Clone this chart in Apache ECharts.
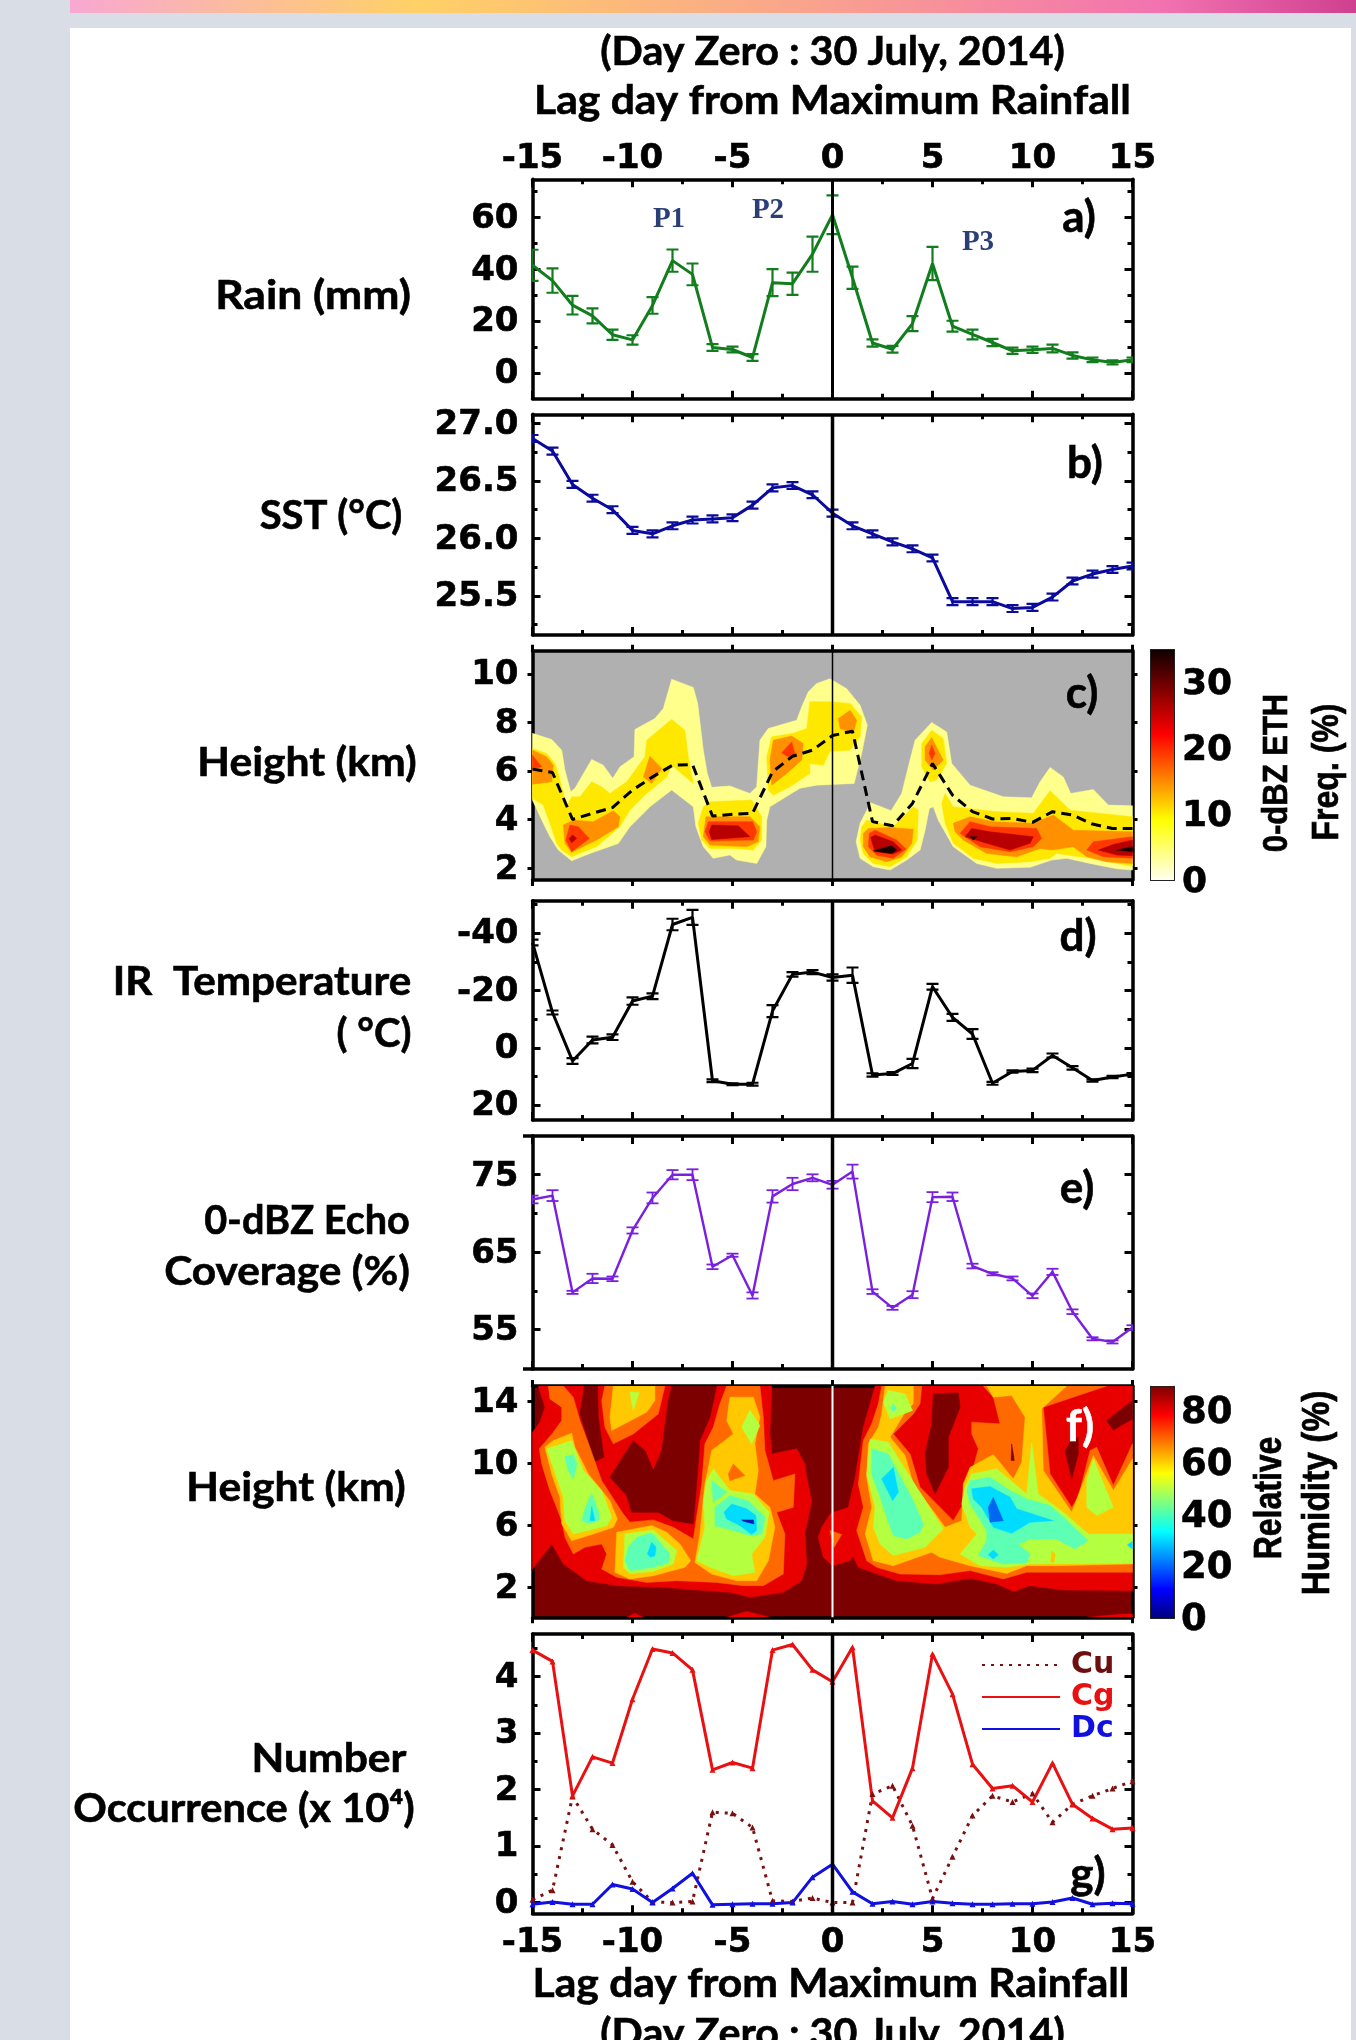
<!DOCTYPE html>
<html><head><meta charset="utf-8">
<script src="https://cdn.jsdelivr.net/npm/echarts@6/dist/echarts.min.js"></script>
<style>
html,body{margin:0;padding:0;background:#d9dee6;width:1356px;height:2040px;overflow:hidden}
#bar{position:absolute;left:70px;top:0;width:1286px;height:13px;background:linear-gradient(90deg,#f8a8d2 0%,#ffd166 27%,#f9a28e 58%,#f272b0 85%,#cf4090 100%)}
#card{position:absolute;left:70px;top:28px;width:1281px;height:2012px;background:#fff}
#c{position:absolute;left:0;top:0;width:1356px;height:2040px}
</style></head><body>
<div id="bar"></div><div id="card"></div><div id="c"></div>
<script>
// ---------- tick values and labels ----------
const days = [-15,-14,-13,-12,-11,-10,-9,-8,-7,-6,-5,-4,-3,-2,-1,0,1,2,3,4,5,6,7,8,9,10,11,12,13,14,15];
const dayTicks = [-15,-10,-5,0,5,10,15];
const dayMinorTicks = [-12.5,-7.5,-2.5,2.5,7.5,12.5];

// ---------- panel a: rain ----------
const rain = [41.5,35.6,26.1,22,14.7,12.7,26,43.3,38,9.8,9,5.9,34.8,34.4,45.8,61,36.7,11.5,9.1,19,42.2,18,14.8,11.7,8.5,8.9,9.4,6.7,5,4,5];
const rainErr = [6,4.7,3.6,2.9,2,1.8,3.2,4.3,4.2,1.3,1.1,1.3,5.2,4.3,6.8,7.5,4.3,1.4,1.3,2.9,6.4,2.1,1.9,1.4,1.2,1.2,1.5,1.2,.9,.8,.9];
// ---------- panel b: SST ----------
const sst = [26.87,26.76,26.47,26.35,26.25,26.07,26.04,26.11,26.16,26.17,26.18,26.29,26.44,26.46,26.38,26.22,26.11,26.04,25.97,25.91,25.83,25.45,25.45,25.45,25.39,25.40,25.49,25.63,25.69,25.73,25.76];
const sstErr = [.03,.03,.03,.03,.03,.03,.03,.03,.03,.03,.03,.03,.03,.03,.03,.03,.03,.03,.03,.03,.03,.03,.03,.03,.03,.03,.03,.03,.03,.03,.03];
// ---------- panel c: echo-top height line and contour outlines [day, km] ----------
const ethMean = [6.08,5.94,4.01,4.26,4.5,5.22,5.76,6.24,6.27,4.15,4.22,4.26,5.97,6.61,6.86,7.46,7.64,3.92,3.75,4.67,6.31,5.01,4.33,4.03,4.05,3.89,4.33,4.19,3.82,3.64,3.64];
const eth1a = [[-15,7.55],[-14.04,7.3],[-13.54,6.86],[-13.38,6.04],[-13.09,5.15],[-12.88,5.29],[-12.04,6.48],[-11.46,6.24],[-10.99,5.7],[-10.62,6.18],[-9.92,6.59],[-9.88,7.71],[-8.88,8.16],[-8.46,8.57],[-8.04,9.78],[-6.96,9.44],[-6.74,8.78],[-6.46,6.86],[-6.26,5.9],[-6.04,5.33],[-5.13,5.39],[-4.13,5.08],[-3.79,5.35],[-3.63,7.27],[-3.21,7.75],[-1.79,8.09],[-1.54,8.64],[-1.21,9.26],[-.79,9.6],[-.13,9.8],[.71,9.39],[1.38,8.71],[1.74,7.89],[1.46,6.72],[1.08,5.49],[-.79,5.42],[-1.63,5.29],[-3.13,4.53],[-3.29,3.98],[-3.33,2.89],[-3.79,2.2],[-4.79,2.34],[-5.13,2.55],[-5.96,2.41],[-6.46,2.89],[-6.83,3.71],[-6.96,4.53],[-8.04,5.22],[-9.13,4.53],[-10.13,3.71],[-10.71,3.02],[-12.13,2.61],[-13.04,2.31],[-13.71,2.75],[-14.13,3.3],[-14.46,3.85],[-15,4.8]];
const eth1b = [[1.91,4.7],[2.93,4.37],[3.46,5.08],[3.79,6.18],[4.13,7.27],[4.96,8],[5.71,7.61],[5.96,6.31],[6.88,5.42],[8.54,4.94],[9.96,4.9],[10.38,5.56],[10.88,6.15],[11.54,5.76],[11.91,5.08],[13.04,5.24],[13.79,4.6],[15,4.57],[15,1.93],[14.21,1.98],[12.88,2.2],[11.71,2.41],[10.96,2.34],[9.88,2.04],[8.21,2],[7.21,2.2],[6.04,2.89],[5.29,3.98],[5.04,4.53],[4.84,4.46],[4.63,3.57],[4.38,2.75],[3.71,2.34],[2.88,1.93],[2.04,2.07],[1.38,2.41],[1.18,3.09],[1.38,3.85]];
const eth2a = [[-15,6.93],[-14.29,6.72],[-13.88,6.31],[-13.71,5.9],[-13.29,4.53],[-13.04,4.94],[-12.63,4.94],[-12.04,5.56],[-11.54,5.35],[-11.13,5.08],[-10.29,5.56],[-9.38,6.59],[-9.29,7.27],[-8.04,8.13],[-7.38,7.68],[-7.21,6.59],[-6.96,5.49],[-8.04,6.24],[-8.29,5.76],[-9.29,5.08],[-10.13,4.39],[-10.63,3.71],[-11.79,2.9],[-13.04,2.48],[-13.54,2.75],[-13.79,3.02],[-14.13,3.85],[-14.46,4.6],[-15,4.87]];
const eth2b = [[-6.13,4.74],[-4.04,4.81],[-3.54,4.12],[-3.54,3.16],[-3.96,2.75],[-4.96,2.82],[-6.13,2.82],[-6.54,3.16],[-6.71,3.85],[-6.46,4.53]];
const eth2c = [[-3.29,6.59],[-3.04,7.41],[-1.96,7.55],[-1.29,7.75],[-1.13,8.85],[-.13,8.85],[.88,8.78],[1.46,8.23],[1.38,7.41],[.88,6.86],[-.13,6.81],[-.46,6.24],[-1.13,6.31],[-1.13,5.9],[-2.13,5.35],[-2.96,5.01],[-3.21,5.22]];
const eth2d = [[5.63,5.08],[6.04,4.53],[8.21,4.33],[10.04,4.26],[10.88,5.19],[11.88,4.39],[15,4.12],[15,2.09],[14.21,2.2],[12.88,2.41],[11.21,2.61],[10.88,2.41],[9.88,2.27],[8.21,2.2],[7.04,2.41],[6.04,3.03],[5.63,3.85],[5.46,4.67]];
const eth2e = [[4.96,7.68],[5.54,7.34],[5.71,6.31],[5.21,5.63],[4.88,5.56],[4.46,6.18],[4.46,7.13]];
const eth2f = [[1.71,3.98],[2.04,3.92],[3.04,3.71],[4.04,4.53],[4.29,4.4],[4.24,3.16],[3.71,2.47],[2.88,2.07],[2.04,2.2],[1.54,2.61],[1.38,3.16],[1.46,3.71]];
const eth3a = [[-15,6.86],[-14.29,6.59],[-13.96,6.24],[-14.04,5.56],[-15,5.46]];
const eth3b = [[-9.13,6.61],[-8.54,6.11],[-9.04,5.49],[-9.46,5.76]];
const eth3c = [[-13.46,3.78],[-12.96,3.98],[-11.96,3.92],[-10.96,4.37],[-10.63,4.12],[-10.71,3.71],[-11.79,3.16],[-13.04,2.66],[-13.38,3.02]];
const eth3d = [[-6.33,4.12],[-4.13,4.12],[-3.63,3.71],[-3.71,3.09],[-4.29,2.89],[-6.13,2.96],[-6.46,3.3]];
const eth3e = [[-2.96,7.27],[-2.04,7.44],[-1.46,7.13],[-1.54,6.45],[-2.29,5.9],[-3.04,5.42],[-3.13,6.45]];
const eth3f = [[.29,8.16],[.88,8.5],[1.21,8.09],[1.04,7.55],[.38,7.75]];
const eth3g = [[1.79,3.64],[2.88,3.68],[4.04,3.61],[3.96,3.02],[3.46,2.47],[2.71,2.27],[1.88,2.47],[1.54,2.89],[1.54,3.44]];
const eth3h = [[4.96,7.38],[5.38,6.7],[5.54,6.45],[5.04,6.04],[4.63,6.45],[4.63,7]];
const eth3i = [[6.04,3.85],[6.88,4.12],[8.04,3.92],[10.04,3.85],[11.04,4.19],[12.04,3.57],[15,3.5],[15,2.2],[13.71,2.27],[12.71,2.48],[12.04,2.89],[10.96,2.75],[10.38,2.82],[9.21,2.48],[7.71,2.61],[6.54,3.16],[6.13,3.5]];
const eth4a = [[-15,6.65],[-14.54,6.18],[-15,6.1]];
const eth4b = [[-13.13,3.78],[-12.71,3.71],[-12.16,3.23],[-13.04,2.68],[-13.33,3.16]];
const eth4c = [[-6.21,3.92],[-3.99,3.92],[-3.79,3.5],[-3.96,3.16],[-6.13,3.13],[-6.38,3.5]];
const eth4d = [[-2.04,7.2],[-1.83,6.59],[-2.29,6.61],[-2.54,6.75]];
const eth4e = [[4.96,7.07],[5.13,6.72],[4.96,6.45],[4.83,6.72]];
const eth4f = [[1.84,3.44],[2.13,3.57],[3.21,3.16],[3.68,2.79],[3.04,2.41],[2.21,2.54],[1.79,2.89]];
const eth4g = [[6.38,3.44],[6.88,3.92],[7.88,3.71],[10.21,3.64],[10.46,3.23],[10.04,2.89],[8.88,2.68],[7.38,2.89]];
const eth4h = [[12.71,2.75],[13.04,3.09],[15,3.3],[15,2.41],[13.54,2.48]];
const eth5a = [[-12.99,3.37],[-12.79,3.23],[-13.04,3.05],[-13.16,3.23]];
const eth5b = [[-6.04,3.78],[-4.71,3.75],[-4.13,3.3],[-6.04,3.19],[-6.16,3.5]];
const eth5c = [[1.91,3.27],[2.13,3.37],[3.04,3.09],[3.46,2.75],[3.04,2.59],[2.13,2.68]];
const eth5d = [[6.63,3.3],[6.96,3.64],[7.88,3.5],[10.04,3.3],[9.88,3.03],[8.88,2.75],[7.71,3.03]];
const eth5e = [[13.29,2.75],[14.04,2.98],[15,3.16],[15,2.52],[14.21,2.55]];
const eth6a = [[2.04,2.72],[2.96,2.93],[3.21,2.75],[2.96,2.61]];
const eth6b = [[14.21,2.75],[15,2.89],[15,2.68]];
const eth6c = [[6.88,3.3],[7.21,3.3],[7.04,3.16]];
// ---------- panel d: IR temperature ----------
const irTemp = [-36.7,-12.3,4.6,-2.7,-3.7,-16.3,-18,-43,-45.5,11.5,12.7,12.7,-12.8,-25.6,-26.4,-24.5,-25.3,9.5,9,5.5,-21.3,-10.6,-4.8,12.4,8.3,7.9,2.7,7,11.4,10.2,9.2];
const irErr = [1,.7,1,1.2,1,1.3,1,2,2.6,.5,.3,.5,2.1,.8,.7,1.1,2.7,.6,.5,1.6,1,1.2,1.7,.5,.4,.6,.7,.6,.4,.4,.4];
// ---------- panel e: echo coverage ----------
const cover = [71.8,72.3,59.8,61.6,61.55,67.8,72,75,75,63.1,64.6,59.4,72.2,73.8,74.6,73.7,75.4,59.9,57.8,59.5,72.1,72.15,63.2,62.2,61.6,59.35,62.45,57.3,53.8,53.4,55.25];
const coverErr = [.5,.7,.2,.6,.3,.4,.7,.6,.7,.3,.2,.4,.8,.8,.45,.5,.9,.3,.25,.45,.65,.55,.3,.2,.25,.3,.4,.3,.2,.2,.3];
// ---------- panel f: humidity contour outlines [day, km] ----------
const rhRedA = [[-15,3.2],[-14.04,4.82],[-13.46,3.53],[-12.29,2.45],[-10.79,2.13],[-8.46,2.02],[-6.79,1.85],[-5.13,1.7],[-4.13,1.38],[-2.46,1.7],[-1.54,2.45],[-1.29,3.53],[-1.38,5.46],[-1.04,7.61],[-1.29,9.12],[-1.38,9.98],[-1.79,10.95],[-3.04,10.62],[-3.13,11.91],[-3.04,15],[-14.71,15],[-14.38,13.63],[-14.63,12.67],[-15,12.02]];
const rhRedB = [[-.13,6.71],[-.54,5.89],[-.71,5.25],[-.46,3.96],[0,3.42],[.88,3.74],[1.04,4],[1.29,3.31],[3.21,2.45],[5.21,2.24],[6.88,2.6],[8.21,2.24],[9.04,1.76],[9.88,2.13],[11.54,1.85],[15,1.81],[15,15],[2.13,15],[1.54,12.34],[1.13,9.12],[.79,7.18],[.08,6.86]];
const rhRedC = [[-10.29,.1],[-9.88,.34],[-9.46,.1]];
const rhRedD = [[-5.29,.1],[-4.29,.47],[-3.13,.1]];
const rhRedE = [[12.71,.1],[14.54,.3],[15,.3],[15,.1]];
const rhDarkA = [[-8.04,15],[-5.79,15],[-6.13,12.99],[-6.63,11.48],[-6.79,8.69],[-6.96,6.11],[-7.96,6.32],[-8.71,6.86],[-10.04,6.86],[-10.29,7.94],[-11.13,9.12],[-9.96,11.48],[-9.38,10.84],[-8.96,9.55],[-8.54,10.84],[-8.21,14.07]];
const rhDarkB = [[-12.41,15],[-11.74,15],[-11.71,12.99],[-11.43,10.41],[-11.96,10.09],[-12.21,11.48],[-12.63,13.2]];
const rhDarkC = [[5.04,14.49],[6.29,14.56],[6.38,13.63],[5.79,11.7],[5.79,9.76],[5.13,8.04],[4.71,9.33],[4.63,10.62],[4.96,12.56]];
const rhDarkD = [[12.29,11.7],[11.88,11.38],[11.63,10.84],[11.96,9.01],[12.29,10.62]];
const rhDarkE = [[15,14.07],[13.71,12.77],[14.04,12.17],[15,12.88]];
const rhDarkF = [[8.96,11.27],[9.09,10.19],[8.93,10.19]];
const rhOrangeA = [[-14.21,15],[-14.13,14.17],[-13.54,13.63],[-13.54,12.77],[-13.96,12.02],[-14.38,11.38],[-14.66,10.95],[-14.54,9.98],[-14.13,8.26],[-13.54,6.32],[-13.38,5.25],[-12.96,4.17],[-12.38,4.6],[-11.54,4.82],[-11.29,4.17],[-11.54,3.2],[-10.79,2.67],[-9.29,2.34],[-7.79,2.45],[-5.79,2.34],[-4.46,2.13],[-3.46,2.13],[-2.46,2.88],[-2.38,5.46],[-2.79,6.86],[-1.96,7.18],[-1.88,9.33],[-2.96,8.9],[-3.38,10.84],[-3.46,12.99],[-3.63,15],[-5.29,15],[-5.63,13.85],[-5.96,12.34],[-6.38,11.27],[-6.54,8.69],[-6.96,5.14],[-7.96,5.89],[-8.96,6.37],[-10.13,6.22],[-10.46,6.75],[-11.54,8.9],[-12.13,11.05],[-12.63,12.77],[-12.96,14.28],[-13.46,15]];
const rhOrangeB = [[-11.38,15],[-8.38,15],[-8.71,13.2],[-9.96,11.91],[-10.96,11.27],[-11.38,12.34],[-11.54,14.06]];
const rhOrangeC = [[2.46,15],[4.46,15],[4.38,13.85],[4.04,13.2],[3.04,11.91],[3.88,10.62],[4.38,8.47],[6.04,6.32],[6.54,7.4],[7.29,10.95],[6.96,11.91],[6.96,12.67],[8.38,12.56],[8.04,14.28],[7.54,15],[13.71,15],[10.54,13.63],[10.88,9.33],[11.96,7.18],[12.29,7.83],[12.88,10.84],[13.21,11.05],[14.04,8.58],[15,11.27],[15,2.99],[11.21,2.99],[9.71,2.99],[8.54,2.56],[6.88,3.1],[5.38,2.84],[3.38,2.88],[2.21,3.31],[1.71,3.74],[1.21,5.68],[1.54,7.18],[1.29,8.69],[1.54,11.48],[1.96,12.56],[2.29,13.85]];
const rhOrangeD = [[-.13,5.68],[.46,5.42],[.08,4.6]];
const rhOrangeE = [[-4.96,9.98],[-4.38,9.23],[-5.13,8.9],[-5.21,9.33]];
const rhGoldA = [[-13.04,11.96],[-12.88,11.05],[-12.21,9.33],[-11.13,7.61],[-10.76,6.43],[-10.96,5.89],[-11.96,5.46],[-13.04,5.03],[-13.54,6.11],[-13.63,7.83],[-14.04,9.33],[-14.38,11.05],[-13.96,11.48]];
const rhGoldB = [[-10.79,5.57],[-9.04,6],[-8.29,5.57],[-7.63,4.82],[-7.09,3.74],[-7.38,3.31],[-8.96,2.77],[-10.13,2.56],[-10.88,2.99]];
const rhGoldC = [[-10.96,15],[-8.88,15],[-8.88,14.06],[-9.29,13.31],[-11.04,12.13],[-11.13,12.99]];
const rhGoldD = [[-5.13,14.28],[-3.96,14.28],[-3.63,12.99],[-3.88,11.27],[-3.71,9.55],[-3.88,8.04],[-3.13,7.18],[-2.88,5.89],[-3.21,3.74],[-3.79,2.45],[-4.79,2.45],[-6.04,2.88],[-6.88,3.63],[-6.63,5.46],[-6.38,8.69],[-6.04,10.84],[-4.96,11.91],[-5.29,12.77]];
const rhGoldE = [[2.63,15],[4.04,15],[4.04,13.85],[3.63,13.31],[2.88,11.7],[3.63,10.52],[4.04,8.69],[5.63,5.89],[6.46,6.32],[6.54,8.69],[6.88,9.76],[8.04,10.58],[9.04,9.01],[9.46,10.09],[9.63,12.99],[8.96,14.39],[8.04,14.28],[7.71,15],[11.71,15],[10.46,13.53],[10.54,9.55],[11.96,6.86],[13.04,10.52],[14.04,8.26],[15,10.3],[15,3.53],[11.21,3.42],[9.71,3.42],[8.71,2.92],[6.88,3.42],[5.38,3.96],[4.96,4.28],[3.04,3.42],[2.04,3.74],[1.63,5.46],[1.96,7.18],[1.71,9.12],[1.79,11.27],[2.29,12.34],[2.46,13.2]];
const rhLimeA = [[-14.29,10.95],[-13.04,11.48],[-12.46,9.55],[-11.54,8.26],[-11.04,6.54],[-11.29,6],[-12.21,5.68],[-12.96,5.46],[-13.38,6.32],[-13.46,7.83],[-13.88,9.44]];
const rhLimeB = [[-10.38,5.46],[-8.96,5.72],[-7.79,4.39],[-7.96,3.53],[-8.96,3.05],[-10.13,2.92],[-10.46,3.31]];
const rhLimeC = [[-10.13,14.6],[-9.66,14.6],[-9.96,13.42]];
const rhLimeD = [[-4.13,13.46],[-3.63,12.45],[-4.04,11.27],[-4.54,12.34]];
const rhLimeE = [[-5.96,9.66],[-5.13,8.26],[-3.96,8.04],[-3.16,6.86],[-3.38,5.25],[-4.04,4.17],[-3.88,2.99],[-4.96,2.77],[-6.13,3.31],[-6.79,3.74],[-6.38,5.89],[-6.46,7.61],[-6.29,8.9]];
const rhLimeF = [[2.79,14.71],[3.63,14.49],[4,13.42],[2.88,12.88],[2.54,13.96]];
const rhLimeG = [[1.88,11.59],[2.79,11.38],[3.79,9.33],[5.54,5.78],[4.63,4.6],[3.04,4.07],[2.38,4.82],[2.04,5.89],[2.13,7.18],[1.71,9.33]];
const rhLimeH = [[6.63,8.47],[6.96,9.33],[8.21,9.66],[9.71,8.04],[9.96,11.38],[10.29,8.04],[11.54,6.86],[12.79,5.46],[15,5.46],[15,3.57],[9.88,3.53],[8.71,3.31],[7.38,3.42],[6.38,4.17],[7.21,5.46],[6.88,5.89],[6.46,7.4]];
const rhLimeI = [[13.04,10.3],[14.04,7.18],[13.21,6.65],[12.71,7.18],[12.71,8.9]];
const rhGoldF = [[10.96,4.39],[11.13,4.17],[11.08,3.64],[10.91,3.64]];
const rhAquaA = [[-13.38,10.45],[-12.96,10.58],[-12.79,9.98],[-12.96,9.01],[-13.21,9.55]];
const rhAquaB = [[-12.04,8.09],[-11.66,6.75],[-11.71,6.32],[-12.21,6.15],[-12.54,6.32],[-12.38,7.08]];
const rhAquaC = [[-9.79,5.25],[-9.04,5.53],[-8.13,4.17],[-8.21,3.63],[-8.96,3.31],[-10.13,3.1],[-10.38,3.74],[-10.21,4.6]];
const rhAquaD = [[-6.04,8.9],[-5.29,8.15],[-5.96,7.5]];
const rhAquaE = [[-5.13,7.94],[-4.21,7.61],[-3.38,6.54],[-3.54,5.46],[-4.13,5.36],[-4.96,5.68],[-5.88,6],[-5.88,7.18]];
const rhAquaF = [[1.96,10.95],[2.79,10.62],[4.04,7.61],[4.54,6.11],[4.38,5.57],[3.71,5.14],[3.04,5.36],[2.71,6.54],[2.38,7.83],[1.96,9.33]];
const rhAquaG = [[3.04,13.85],[3.21,13.59],[3.04,13.31],[2.91,13.59]];
const rhAquaH = [[6.88,8.9],[7.88,9.12],[8.88,8.26],[9.71,7.72],[10.88,7.29],[11.54,6.54],[12.79,5.03],[12.13,4.5],[11.21,5.14],[9.88,5.14],[9.29,4.82],[9.88,4.17],[9.71,3.63],[8.54,3.53],[7.29,4.07],[7.71,5.03],[7.71,5.68],[6.88,7.4],[6.71,8.26]];
const rhCyanA = [[-12.04,7.23],[-11.88,6.32],[-12.13,6.32]];
const rhCyanB = [[-9.04,4.93],[-8.82,4.6],[-8.88,4.06],[-9.09,3.96],[-9.26,4.17]];
const rhCyanC = [[-5.04,7.4],[-4.29,7.08],[-3.83,6.65],[-3.79,5.68],[-4.04,5.42],[-4.63,6],[-5.29,6.43],[-5.43,6.86]];
const rhCyanD = [[3.04,9.76],[3.29,8.15],[3.01,7.61],[2.46,9.01]];
const rhCyanE = [[6.96,8.37],[7.88,8.52],[8.88,7.83],[9.21,7.08],[11.04,6.32],[9.88,6.21],[8.96,5.5],[8.04,5.89],[7.46,7.18],[7.04,7.72]];
const rhCyanF = [[8.04,4.43],[8.29,4.13],[8.04,3.85],[7.79,4.13]];
const rhCyanG = [[15,4.99],[14.74,4.75],[15,4.49]];
const rhBlueA = [[8.04,7.83],[8.54,6.32],[7.88,6.22],[7.79,7.18]];
const rhNavyA = [[-4.54,6.37],[-3.96,6.37],[-3.92,6.11],[-4.46,6.28]];
// ---------- panel g: number occurrence ----------
const cuCount = [.05,.22,1.88,1.3,1.02,.37,.01,0,.02,1.6,1.58,1.33,.03,.02,.08,0,0,1.92,2.07,1.36,.07,.81,1.54,1.89,1.78,1.93,1.42,1.74,1.89,2.02,2.15];
const cgCount = [4.47,4.27,1.89,2.58,2.47,3.6,4.49,4.42,4.12,2.35,2.48,2.38,4.47,4.57,4.12,3.91,4.52,1.8,1.5,2.38,4.4,3.69,2.45,2.02,2.07,1.78,2.47,1.74,1.49,1.3,1.32];
const dcCount = [-.03,.01,-.03,-.03,.32,.24,0,.25,.52,-.04,-.03,-.02,-.02,0,.45,.68,.19,-.02,.02,-.03,.02,-.01,-.03,-.03,-.02,-.02,.01,.08,-.03,-.01,-.02];

// ---------- assembling ----------
const TICK_FONT = '"DejaVu Sans"', TEXT_FONT = 'Lato', LEFT = 532.5, WIDTH = 600;
const grids = [], xAxes = [], yAxes = [], series = [], gfx = [];
const axisFmt = v => String(v);
const tickRich = (size, padTop) => ({t:{fontFamily:TICK_FONT, fontWeight:'bold', fontSize:size, color:'#000', textBorderColor:'#000', textBorderWidth:.6, padding:[padTop,0,0,0]}});
function oneAxis(list, gi, pos, min, max, ticks, o) {
  const f=o.fmt||axisFmt;
  const lab={show:!!o.labels, customValues:ticks, margin:o.margin||14, hideOverlap:false, showMinLabel:true, showMaxLabel:true,
      color:'#000', fontFamily:TICK_FONT, fontWeight:'bold', fontSize:o.size||34, textBorderColor:'#000', textBorderWidth:.6, formatter:f};
  if(o.pad){ lab.formatter=v=>`{t|${f(v)}}`; lab.rich=tickRich(o.size||34,o.pad); }
  list.push({type:'value', gridIndex:gi, position:pos, min, max, inverse:!!o.inverse, splitLine:{show:false},
    axisLine:{show:!!o.line, onZero:false, lineStyle:{color:'#000', width:3.5}},
    axisTick:{show:true, inside:o.inside!==false, length:o.len, customValues:ticks, lineStyle:{color:'#000', width:o.tw||3}},
    axisLabel:lab});
  return list.length-1;
}
function panel(top, height, yMin, yMax, yMajor, yMinor, o) {
  o = o||{};
  const gi = grids.length;
  grids.push({left:LEFT, top, width:WIDTH, height, containLabel:false, show:!!o.bg, backgroundColor:o.bg||'transparent', borderWidth:0});
  const xin = o.outward ? false : true;
  const xb = oneAxis(xAxes, gi,'bottom',-15,15,dayTicks,{line:true,len:o.outward?6:8,inside:xin,labels:o.bottomLabels,margin:13});
  oneAxis(xAxes, gi,'top',-15,15,dayTicks,{line:true,len:o.outward?6:8,inside:xin,labels:o.topLabels,margin:3});
  if(!o.outward){
    oneAxis(xAxes, gi,'bottom',-15,15,dayMinorTicks,{len:5});
    oneAxis(xAxes, gi,'top',-15,15,dayMinorTicks,{len:5});
  }
  const yl = oneAxis(yAxes, gi,'left',yMin,yMax,yMajor,{line:true,len:o.outward?5:8,inside:!o.outward,labels:true,inverse:o.inverse,fmt:o.fmt,margin:o.margin||14,pad:o.padTop||3});
  oneAxis(yAxes, gi,'right',yMin,yMax,yMajor,{line:true,len:o.outward?5:8,inside:!o.outward,inverse:o.inverse});
  if(yMinor){
    oneAxis(yAxes, gi,'left',yMin,yMax,yMinor,{len:5,inverse:o.inverse});
    oneAxis(yAxes, gi,'right',yMin,yMax,yMinor,{len:5,inverse:o.inverse});
  }
  return {x:xb, y:yl, yMin, yMax};
}
function errSeries(p, vals, errs, color, lw) {
  series.push({type:'custom', coordinateSystem:'cartesian2d', xAxisIndex:p.x, yAxisIndex:p.y, clip:true, silent:true, z:3,
    data:days.map((d,i)=>[d,vals[i],errs[i]]), encode:{x:0,y:1},
    renderItem:(params,api)=>{
      const a=api.coord([api.value(0),api.value(1)-api.value(2)]), b=api.coord([api.value(0),api.value(1)+api.value(2)]);
      const st={stroke:color,lineWidth:lw,fill:null}, cap=6;
      return {type:'group',children:[
        {type:'line',shape:{x1:a[0],y1:a[1],x2:b[0],y2:b[1]},style:st},
        {type:'line',shape:{x1:a[0]-cap,y1:a[1],x2:a[0]+cap,y2:a[1]},style:st},
        {type:'line',shape:{x1:b[0]-cap,y1:b[1],x2:b[0]+cap,y2:b[1]},style:st}]};
    }});
}
function lineSeries(p, vals, color, lw, extra) {
  series.push(Object.assign({type:'line', xAxisIndex:p.x, yAxisIndex:p.y, data:days.map((d,i)=>[d,vals[i]]), showSymbol:false, symbol:'none',
    clip:true, silent:true, z:4, lineStyle:{color, width:lw}, itemStyle:{color}}, extra||{}));
}
function zeroLine(p, color, lw) {
  series.push({type:'line', xAxisIndex:p.x, yAxisIndex:p.y, data:[[0,p.yMin],[0,p.yMax]], symbol:'none', silent:true, z:5, lineStyle:{color,width:lw}});
}
function polygons(p, layers) {
  const flat=[]; layers.forEach(([fill,polys])=>polys.forEach(pts=>flat.push({fill,pts})));
  series.push({type:'custom', coordinateSystem:'cartesian2d', xAxisIndex:p.x, yAxisIndex:p.y, clip:true, silent:true, z:2,
    data:flat.map((f,i)=>[0,0,i]), encode:{x:0,y:1},
    renderItem:(params,api)=>{
      const f=flat[api.value(2)];
      return {type:'polygon',shape:{points:f.pts.map(q=>api.coord(q))},style:{fill:f.fill,stroke:f.fill,lineWidth:.5,lineJoin:'round'}};
    }});
}
function colorbar(top, height, yMax, ticks, stops, size, labelMargin, padTop) {
  const gi = grids.length;
  grids.push({left:1151, top, width:23, height, show:false});
  const mk=(pos,lab)=>({type:'value',gridIndex:gi,position:pos,min:0,max:yMax,splitLine:{show:false},
      axisLine:{show:true,onZero:false,lineStyle:{color:'#222',width:2}},
      axisTick:{show:true,inside:true,length:4,customValues:ticks,lineStyle:{color:'#222',width:2}},
      axisLabel:{show:lab,customValues:ticks,margin:labelMargin,hideOverlap:false,showMinLabel:true,showMaxLabel:true,
        color:'#000',fontFamily:TICK_FONT,fontWeight:'bold',fontSize:size,formatter:v=>`{t|${v}}`,rich:tickRich(size,padTop)}});
  xAxes.push({type:'value',gridIndex:gi,min:0,max:1,show:true,splitLine:{show:false},
      axisLine:{show:true,onZero:false,lineStyle:{color:'#222',width:2}},axisTick:{show:false},axisLabel:{show:false}});
  const xi=xAxes.length-1;
  xAxes.push({type:'value',gridIndex:gi,position:'top',min:0,max:1,splitLine:{show:false},
      axisLine:{show:true,onZero:false,lineStyle:{color:'#222',width:2}},axisTick:{show:false},axisLabel:{show:false}});
  yAxes.push(mk('right',true)); const yi=yAxes.length-1;
  yAxes.push(mk('left',false));
  series.push({type:'custom',coordinateSystem:'cartesian2d',xAxisIndex:xi,yAxisIndex:yi,silent:true,z:1,data:[[0,0]],encode:{x:0,y:1},
    renderItem:(params,api)=>{
      const a=api.coord([0,yMax]), b=api.coord([1,0]);
      return {type:'rect',shape:{x:a[0],y:a[1],width:b[0]-a[0],height:b[1]-a[1]},
        style:{fill:new echarts.graphic.LinearGradient(0,1,0,0,stops.map(([v,c])=>({offset:v/yMax,color:c})))}};
    }});
}
function label(text, x, y, size, o) {
  o=o||{};
  const fill=o.color||'#000';
  gfx.push({type:'text', x, y:y+(o.font?0:1.5), z:50, silent:true, rotation:o.rot||0, scaleX:o.sx||1, scaleY:o.sy||1,
    style:{text, fill, stroke:fill, lineWidth:o.lw===undefined?.6:o.lw, font:`${o.weight||'bold'} ${size}px ${o.font||TEXT_FONT}`, align:o.align||'center', verticalAlign:'middle'}});
}

// a) rain
const pa = panel(179.3, 219.4, -10, 74.7, [0,20,40,60], [10,30,50,70], {topLabels:true});
errSeries(pa, rain, rainErr, '#117d1c', 2.2); lineSeries(pa, rain, '#117d1c', 3); zeroLine(pa,'#000',3);
// b) sst
const pb = panel(414.3, 220.7, 25.16, 27.08, [25.5,26,26.5,27], [25.25,25.75,26.25,26.75], {fmt:v=>v.toFixed(1)});
errSeries(pb, sst, sstErr, '#0a0a9c', 2.2); lineSeries(pb, sst, '#0a0a9c', 3); zeroLine(pb,'#000',3.5);
// c) echo-top contour
const pc = panel(650.7, 229.3, 1.52, 10.95, [2,4,6,8,10], null, {bg:'#b0b0b0', outward:true});
polygons(pc, [
 ['#ffff8c',[eth1a,eth1b]],
 ['#ffe800',[eth2a,eth2b,eth2c,eth2d,eth2e,eth2f]],
 ['#ff9000',[eth3a,eth3b,eth3c,eth3d,eth3e,eth3f,eth3g,eth3h,eth3i]],
 ['#ff3800',[eth4a,eth4b,eth4c,eth4d,eth4e,eth4f,eth4g,eth4h]],
 ['#b80000',[eth5a,eth5b,eth5c,eth5d,eth5e]],
 ['#180000',[eth6a,eth6b,eth6c]]]);
lineSeries(pc, ethMean, '#000', 3, {lineStyle:{color:'#000',width:3,type:[10,6]},z:4});
zeroLine(pc,'#000',1.5);
colorbar(650, 230, 34.8, [0,10,20,30], [[0,'#fffff0'],[9,'#ffff00'],[22,'#ff0000'],[30,'#6a0000'],[34.8,'#100000']], 36, 8, 6);
// d) IR temperature
const pd = panel(900.7, 219.3, -51.3, 25.2, [-40,-20,0,20], [-50,-30,-10,10], {inverse:true});
errSeries(pd, irTemp, irErr, '#000', 2.2); lineSeries(pd, irTemp, '#000', 3); zeroLine(pd,'#000',3.5);
// e) coverage
const pe = panel(1136, 233, 49.9, 80, [55,65,75], [60,70], {padTop:4});
errSeries(pe, cover, coverErr, '#7a1fe0', 1.8); lineSeries(pe, cover, '#7a1fe0', 2.4); zeroLine(pe,'#000',3.5);
// f) humidity contour
const pf = panel(1386, 231.3, .09, 15, [2,6,10,14], null, {bg:'#7c0000', outward:true, padTop:4});
polygons(pf, [
 ['#e80000',[rhRedA,rhRedB,rhRedC,rhRedD,rhRedE]],
 ['#7c0000',[rhDarkA,rhDarkB,rhDarkC,rhDarkD,rhDarkE]],
 ['#ff6a00',[rhOrangeA,rhOrangeB,rhOrangeC,rhOrangeD]],
 ['#7c0000',[rhDarkF]],
 ['#ffc800',[rhGoldA,rhGoldB,rhGoldC,rhGoldD,rhGoldE]],
 ['#ff6a00',[rhOrangeE]],
 ['#b4ff40',[rhLimeA,rhLimeB,rhLimeC,rhLimeD,rhLimeE,rhLimeF,rhLimeG,rhLimeH,rhLimeI]],
 ['#ffc800',[rhGoldF]],
 ['#5cffb4',[rhAquaA,rhAquaB,rhAquaC,rhAquaD,rhAquaE,rhAquaF,rhAquaG,rhAquaH]],
 ['#00dcff',[rhCyanA,rhCyanB,rhCyanC,rhCyanD,rhCyanE,rhCyanF,rhCyanG]],
 ['#0068f0',[rhBlueA]],
 ['#0818b0',[rhNavyA]]]);
zeroLine(pf,'#fff',2);
colorbar(1386.7, 231.3, 89.5, [0,20,40,60,80], [[0,'#00007f'],[11,'#0000ff'],[33.5,'#00ffff'],[56,'#ffff00'],[78.5,'#ff0000'],[89.5,'#7f0000']], 37, 7, 5);
// g) number occurrence
const pg = panel(1634, 279.3, -.19, 4.755, [0,1,2,3,4], [.5,1.5,2.5,3.5,4.5], {bottomLabels:true, margin:14});
const tri = {symbol:'triangle', symbolSize:6, showSymbol:true};
lineSeries(pg, cuCount, '#7a1010', 3, Object.assign({name:'Cu',lineStyle:{color:'#7a1010',width:3,type:[3,6]},itemStyle:{color:'#7a1010'}},tri));
lineSeries(pg, cgCount, '#e81010', 3, Object.assign({name:'Cg'},tri));
lineSeries(pg, dcCount, '#1010e0', 3, Object.assign({name:'Dc'},tri));
zeroLine(pg,'#000',3.5);

// ---------- text ----------
label('(Day Zero : 30 July, 2014)', 832.5, 50.5, 40, {sx:1.03});
label('Lag day from Maximum Rainfall', 832.5, 99.5, 40, {sx:1.065});
label('Lag day from Maximum Rainfall', 831, 1983, 40, {sx:1.065});
label('(Day Zero : 30 July, 2014)', 832.5, 2033, 40, {sx:1.03});
label('Rain (mm)', 313, 295, 40, {sx:1.11});
label('SST (°C)', 331, 515, 40, {sx:1});
label('Height (km)', 307, 762, 40, {sx:1.065});
label('IR  Temperature', 262, 981, 40, {sx:1.055});
label('( °C)', 374, 1033, 40);
label('0-dBZ Echo', 307, 1220, 40, {sx:.99});
label('Coverage (%)', 287, 1271, 40, {sx:1.06});
label('Height (km)', 296, 1487, 40, {sx:1.065});
label('Number', 329, 1758, 40, {sx:1.065});
label('Occurrence (x 10⁴)', 244, 1808, 40, {sx:1.04});
['a)','b)','c)','d)','e)','f)','g)'].forEach((t,i)=>{
  const at=[[1079,216],[1085,462],[1082,692],[1078,935],[1077,1187],[1080,1425],[1088,1873]][i];
  label(t, at[0], at[1], 44, {color:t==='f)'?'#fff':'#000'});
});
label('P1',669,220,29,{font:'"Liberation Serif"',color:'#2b3f77',lw:0});
label('P2',768,211,29,{font:'"Liberation Serif"',color:'#2b3f77',lw:0});
label('P3',978,243,29,{font:'"Liberation Serif"',color:'#2b3f77',lw:0});
const R90=Math.PI/2;
label('0-dBZ ETH',1277,773,31,{font:'"Liberation Sans"',rot:R90,sy:1.13});
label('Freq. (%)',1328,772,32,{font:'"Liberation Sans"',rot:R90,sy:1.14});
label('Relative',1270,1498,32,{font:'"Liberation Sans"',rot:R90,sy:1.22});
label('Humidity (%)',1318,1493,33.5,{font:'"Liberation Sans"',rot:R90,sy:1.16});
gfx.push({type:'line',z:20,silent:true,shape:{x1:523,y1:1136,x2:533,y2:1136},style:{stroke:'#000',lineWidth:3.5}});
gfx.push({type:'line',z:20,silent:true,shape:{x1:523,y1:1369,x2:533,y2:1369},style:{stroke:'#000',lineWidth:3.5}});

const chart = echarts.init(document.getElementById('c'), null, {renderer:'canvas'});
chart.setOption({
  animation:false, backgroundColor:'transparent',
  grid:grids, xAxis:xAxes, yAxis:yAxes, series, graphic:{elements:gfx},
  legend:{show:true, selectedMode:false, orient:'vertical', left:976, top:1645, itemWidth:78, itemHeight:14, itemGap:2,
    itemStyle:{opacity:0},
    textStyle:{fontFamily:TICK_FONT, fontWeight:'bold', fontSize:30, padding:[0,0,0,6]},
    data:[{name:'Cu',textStyle:{color:'#6e0f0f'}},{name:'Cg',textStyle:{color:'#e81010'}},{name:'Dc',textStyle:{color:'#1010e0'}}]}
});
</script>
</body></html>
